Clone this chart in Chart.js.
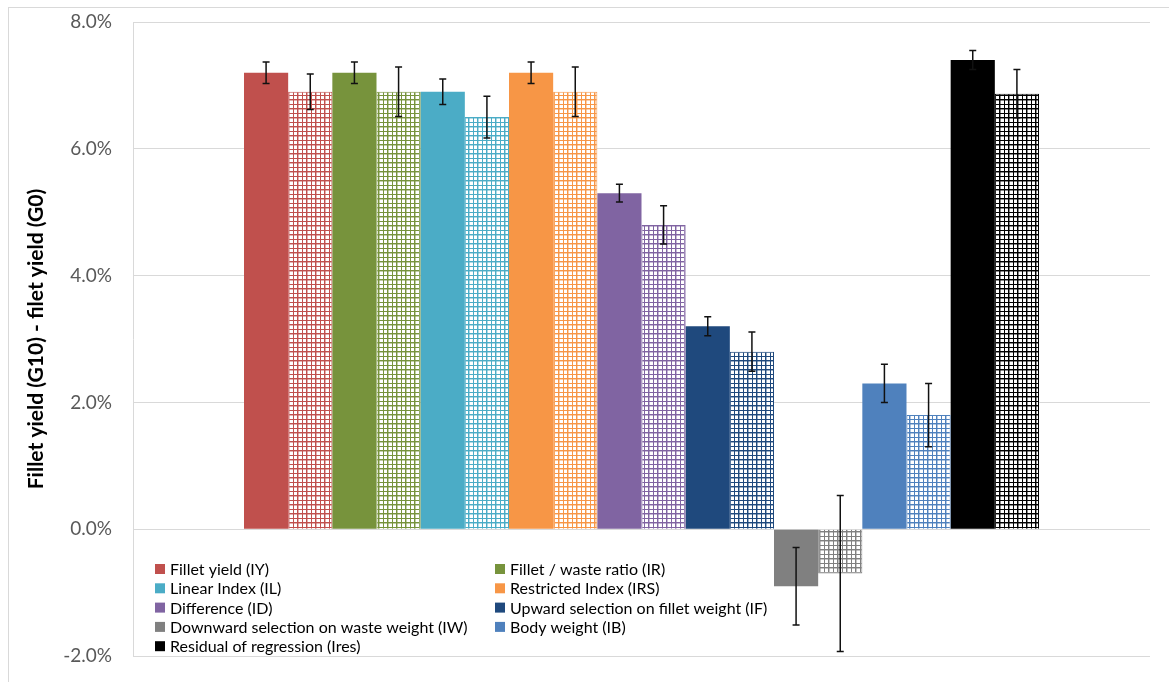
<!DOCTYPE html>
<html>
<head>
<meta charset="utf-8">
<script src="https://cdn.jsdelivr.net/npm/chart.js@4.4.0/dist/chart.umd.min.js"></script>
<style>
  html, body { margin: 0; padding: 0; background: #ffffff; }
  #wrap { width: 1169px; height: 682px; }
</style>
</head>
<body>
<div id="wrap"><canvas id="chart" width="1169" height="682"></canvas></div>
<script>
// Selection indices, one colour each
const indexNames = [
  'Fillet yield (IY)',
  'Fillet / waste ratio (IR)',
  'Linear Index (IL)',
  'Restricted Index (IRS)',
  'Difference (ID)',
  'Upward selection on fillet weight (IF)',
  'Downward selection on waste weight (IW)',
  'Body weight (IB)',
  'Residual of regression (Ires)'
];
const indexColors = ['#C0504D', '#77933C', '#4BACC6', '#F79646', '#8064A2', '#1F497D', '#808080', '#4F81BD', '#000000'];

// Gain in fillet yield (percentage points), plain bars and gridded bars
const gainPlain = [7.2, 7.2, 6.9, 7.2, 5.3, 3.2, -0.9, 2.3, 7.4];
const errorPlain = [0.17, 0.17, 0.2, 0.17, 0.14, 0.15, 0.61, 0.3, 0.15];
const gainGrid = [6.9, 6.9, 6.5, 6.9, 4.8, 2.8, -0.7, 1.8, 6.87];
const errorGrid = [0.28, 0.39, 0.33, 0.39, 0.3, 0.31, 1.23, 0.5, 0.38];

// Value axis
const yTicks = [-2, 0, 2, 4, 6, 8];
const yTitle = 'Fillet yield (G10) - filet yield (G0)';

const FONT = 'Lato, "Open Sans", sans-serif';

// Large-grid fill: alternating heavy and light lines on white
function gridPattern(color) {
  const n = 9;
  const tile = document.createElement('canvas');
  tile.width = n; tile.height = n;
  const g = tile.getContext('2d');
  g.fillStyle = '#ffffff';
  g.fillRect(0, 0, n, n);
  g.fillStyle = color;
  g.fillRect(0, 0, n, 1);
  g.fillRect(0, 0, 1, n);
  g.fillRect(0, 5, n, 1);
  g.fillRect(5, 0, 1, n);
  g.globalAlpha = 0.45;
  g.fillRect(0, 1, n, 1);
  g.fillRect(1, 0, 1, n);
  return g.createPattern(tile, 'repeat');
}

const datasets = [];
indexNames.forEach((name, i) => {
  datasets.push({
    label: name,
    data: [gainPlain[i]],
    errorAmount: errorPlain[i],
    backgroundColor: indexColors[i],
    borderWidth: 0
  });
  datasets.push({
    label: name + ' ',
    data: [gainGrid[i]],
    errorAmount: errorGrid[i],
    backgroundColor: gridPattern(indexColors[i]),
    borderColor: indexColors[i],
    borderWidth: 1
  });
});

// Vertical error bars with short caps
const errorBars = {
  id: 'errorBars',
  afterDatasetsDraw(chart) {
    const { ctx } = chart;
    const y = chart.scales.y;
    ctx.save();
    ctx.strokeStyle = '#111111';
    ctx.lineWidth = 1.5;
    chart.data.datasets.forEach((ds, di) => {
      const bar = chart.getDatasetMeta(di).data[0];
      const v = ds.data[0], e = ds.errorAmount;
      const top = y.getPixelForValue(v + e);
      const bot = y.getPixelForValue(v - e);
      ctx.beginPath();
      ctx.moveTo(bar.x, top); ctx.lineTo(bar.x, bot);
      ctx.moveTo(bar.x - 3.5, top); ctx.lineTo(bar.x + 3.5, top);
      ctx.moveTo(bar.x - 3.5, bot); ctx.lineTo(bar.x + 3.5, bot);
      ctx.stroke();
    });
    ctx.restore();
  }
};

// Two-column legend inside the plot, bottom left
const insideLegend = {
  id: 'insideLegend',
  afterDraw(chart) {
    const { ctx, chartArea } = chart;
    ctx.save();
    ctx.font = '16px ' + FONT;
    ctx.textBaseline = 'middle';
    ctx.textAlign = 'left';
    indexNames.forEach((name, i) => {
      const col = i % 2, row = Math.floor(i / 2);
      const x = chartArea.left + 22 + col * 340;
      const y = chartArea.bottom - 87 + row * 19.3;
      ctx.fillStyle = indexColors[i];
      ctx.fillRect(x, y - 5, 10, 10);
      ctx.fillStyle = '#000000';
      ctx.fillText(name, x + 15, y + 1);
    });
    ctx.restore();
  }
};

// Light frame around the whole chart
const frame = {
  id: 'frame',
  beforeDraw(chart) {
    const { ctx } = chart;
    ctx.save();
    ctx.strokeStyle = '#d9d9d9';
    ctx.lineWidth = 1;
    ctx.strokeRect(8.5, 7.5, chart.width, chart.height);
    ctx.restore();
  }
};

new Chart(document.getElementById('chart'), {
  type: 'bar',
  data: { labels: ['G10'], datasets },
  plugins: [frame, errorBars, insideLegend],
  options: {
    responsive: false,
    animation: false,
    datasets: { bar: { categoryPercentage: 0.7817, barPercentage: 1 } },
    layout: { padding: { top: 22, right: 19, bottom: 26, left: 0 } },
    plugins: { legend: { display: false }, tooltip: { enabled: false } },
    scales: {
      x: { display: false, grid: { display: false } },
      y: {
        min: yTicks[0],
        max: yTicks[yTicks.length - 1],
        afterFit(scale) { scale.width = 133; },
        afterBuildTicks(scale) { scale.ticks = yTicks.map(v => ({ value: v })); },
        border: { display: true, color: '#d9d9d9', width: 1 },
        grid: { color: '#d9d9d9', lineWidth: 1, drawTicks: true, tickLength: 21, tickColor: 'rgba(0,0,0,0)' },
        ticks: {
          padding: 0,
          color: '#595959',
          font: { family: FONT, size: 19 },
          callback: v => v.toFixed(1) + '%'
        },
        title: {
          display: true,
          text: yTitle,
          color: '#000000',
          font: { family: FONT, size: 21, weight: 'bold' },
          padding: { top: 24, bottom: 0 }
        }
      }
    }
  }
});
</script>
</body>
</html>
